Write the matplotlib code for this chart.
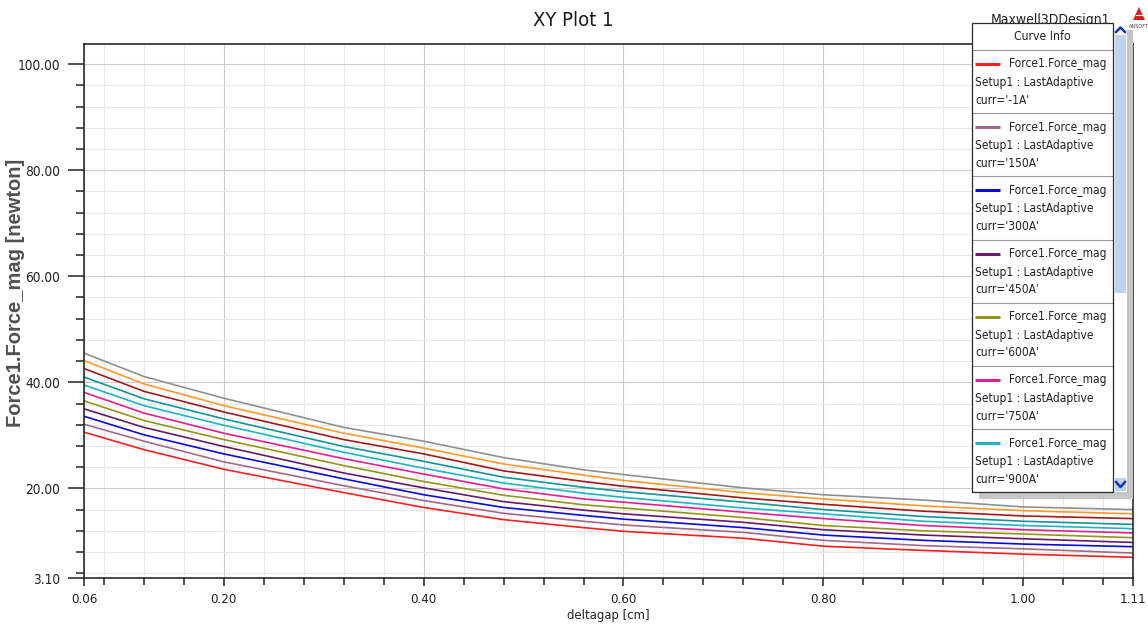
import numpy as np
import matplotlib
matplotlib.use("Agg")
import matplotlib.pyplot as plt
from matplotlib import font_manager
from matplotlib.patches import Rectangle, Polygon
from matplotlib.lines import Line2D

# ---------------- data ----------------
deltagap = [0.06, 0.12, 0.20, 0.32, 0.40, 0.48, 0.56, 0.60, 0.72, 0.80, 0.90, 1.00, 1.11]
currents = ["-1A", "150A", "300A", "450A", "600A", "750A", "900A",
            "1050A", "1200A", "1350A", "1500A"]
force_m1A   = [30.6, 27.3, 23.6, 19.2, 16.4, 14.1, 12.6, 11.9, 10.6, 9.1, 8.3, 7.6, 7.0]
force_150A  = [32.1, 28.9, 25.0, 20.5, 17.7, 15.3, 13.8, 13.1, 11.7, 10.2, 9.2, 8.6, 7.8]
force_300A  = [33.6, 30.1, 26.5, 21.8, 18.8, 16.4, 14.9, 14.2, 12.6, 11.2, 10.2, 9.5, 9.0]
force_450A  = [35.0, 31.5, 27.9, 22.9, 20.1, 17.5, 15.9, 15.2, 13.6, 12.2, 11.2, 10.5, 9.8]
force_600A  = [36.5, 32.8, 29.2, 24.3, 21.3, 18.7, 16.9, 16.3, 14.5, 13.0, 12.0, 11.4, 10.7]
force_750A  = [38.1, 34.2, 30.4, 25.6, 22.7, 19.9, 18.0, 17.4, 15.5, 14.3, 13.0, 12.2, 11.6]
force_900A  = [39.5, 35.6, 31.9, 26.8, 23.8, 21.0, 19.1, 18.3, 16.3, 15.2, 13.8, 13.0, 12.4]
force_1050A = [41.0, 36.9, 33.1, 27.9, 25.1, 22.1, 20.2, 19.4, 17.4, 16.0, 14.7, 13.8, 13.2]
force_1200A = [42.6, 38.3, 34.4, 29.2, 26.5, 23.3, 21.3, 20.4, 18.2, 17.0, 15.7, 14.8, 14.3]
force_1350A = [44.1, 39.7, 35.6, 30.4, 27.6, 24.6, 22.5, 21.5, 19.2, 18.0, 16.7, 15.8, 15.2]
force_1500A = [45.5, 41.1, 37.0, 31.5, 28.9, 25.8, 23.5, 22.6, 20.1, 18.8, 17.8, 16.5, 16.0]
series = [force_m1A, force_150A, force_300A, force_450A, force_600A, force_750A,
          force_900A, force_1050A, force_1200A, force_1350A, force_1500A]
colors = ["#ff2020", "#a06a8c", "#0a0ad8", "#641c6a", "#949420", "#e0228c",
          "#22b2c2", "#149494", "#9c1c1c", "#ff9a30", "#909090"]

x_major = [0.06, 0.20, 0.40, 0.60, 0.80, 1.00, 1.11]
x_labels = ["0.06", "0.20", "0.40", "0.60", "0.80", "1.00", "1.11"]
y_major = [3.10, 20.0, 40.0, 60.0, 80.0, 100.0]
y_labels = ["3.10", "20.00", "40.00", "60.00", "80.00", "100.00"]
legend_shown = 7  # curves visible in the Curve Info box

# ---------------- fonts ----------------
names = {f.name for f in font_manager.fontManager.ttflist}
if "Liberation Sans Narrow" in names:
    NARROW = dict(family="Liberation Sans Narrow")
    WF = 1.0
elif any(f.name == "DejaVu Sans" and "condensed" in str(f.stretch)
         for f in font_manager.fontManager.ttflist):
    NARROW = dict(family="DejaVu Sans", stretch="condensed")
    WF = 0.83
else:
    NARROW = dict(family="Liberation Sans")
    WF = 0.82


def fs(s):
    return s * WF


W, H = 1148, 625
fig = plt.figure(figsize=(W / 100, H / 100), dpi=100)
fig.patch.set_facecolor("white")


def fx(x):
    return x / W


def fy(y):
    return 1 - y / H


ax = fig.add_axes([fx(84), fy(578), (1133 - 84) / W, (578 - 44) / H])

for vals, c in zip(series, colors):
    ax.plot(deltagap, vals, color=c, lw=1.2, solid_joinstyle="round")

ax.set_xlim(0.06, 1.11)
ax.set_ylim(3.10, 103.8)
ax.set_xticks(x_major)
ax.set_xticklabels(x_labels, fontsize=fs(11.5), color="#222222", **NARROW)
ax.set_xticks(np.arange(0.08, 1.10, 0.04), minor=True)
ax.set_yticks(y_major)
ax.set_yticklabels(y_labels, fontsize=fs(11.8), color="#222222", **NARROW)
ax.set_yticks(np.arange(4, 104, 4), minor=True)

ax.tick_params(axis="y", which="major", length=11.5, width=1.1, pad=5.5, color="#222222")
ax.tick_params(axis="y", which="minor", length=5.8, width=1.1, color="#222222")
ax.tick_params(axis="x", which="major", length=6, width=1.1, pad=5, color="#222222")
ax.tick_params(axis="x", which="minor", length=5, width=1.1, color="#222222")

ax.grid(which="major", color="#cdcdcd", lw=0.8)
ax.grid(which="minor", color="#e8e8e8", lw=0.8)
ax.set_axisbelow(True)
for sp in ax.spines.values():
    sp.set_linewidth(1.1)
    sp.set_color("#1a1a1a")

# ---------------- titles / labels ----------------
fig.text(fx(573), fy(21), "XY Plot 1", ha="center", va="center",
         fontsize=fs(17.5), color="#1a1a1a", **NARROW)
fig.text(fx(608), fy(615), "deltagap [cm]", ha="center", va="center",
         fontsize=fs(11.3), color="#222222", **NARROW)
fig.text(fx(16), fy(293), "Force1.Force_mag [newton]", ha="center", va="center",
         rotation=90, fontsize=14.5, fontweight="bold", color="#505050",
         family="Liberation Sans")
fig.text(fx(1050), fy(20), "Maxwell3DDesign1", ha="center", va="center",
         fontsize=fs(12), color="#222222", zorder=2, **NARROW)

# Ansoft logo
fig.add_artist(Polygon([[fx(1133), fy(20)], [fx(1139), fy(7)], [fx(1145), fy(20)]],
                       closed=True, transform=fig.transFigure, facecolor="#d42020",
                       edgecolor="none", zorder=2))
fig.add_artist(Line2D([fx(1135.5), fx(1142.5)], [fy(15), fy(15)], transform=fig.transFigure,
                      color="white", lw=0.8, zorder=2.1))
fig.text(fx(1139), fy(27), "ANSOFT", ha="center", va="center", fontsize=4,
         color="#444444", zorder=2, **NARROW)


# ---------------- Curve Info box ----------------
def rect(x0, y0, x1, y1, **kw):
    r = Rectangle((fx(x0), fy(y1)), (x1 - x0) / W, (y1 - y0) / H,
                  transform=fig.transFigure, **kw)
    fig.add_artist(r)
    return r


def hline(x0, x1, y, **kw):
    fig.add_artist(Line2D([fx(x0), fx(x1)], [fy(y), fy(y)], transform=fig.transFigure, **kw))


BX0, BX1, BY0, BY1 = 972, 1113, 23, 492
rect(979, 30, 1133, 499, facecolor="#c6c6c6", edgecolor="none", zorder=3)
rect(BX0, BY0, 1127, BY1, facecolor="white", edgecolor="none", zorder=4)
rect(BX0, BY0, BX1, BY1, facecolor="none", edgecolor="#2a2a2a", lw=0.9, zorder=6)

fig.text(fx((BX0 + BX1) / 2), fy(37), "Curve Info", ha="center", va="center",
         fontsize=fs(10.5), color="#222222", zorder=6, **NARROW)
hline(BX0, BX1, 50, color="#9a9a9a", lw=0.8, zorder=5)

ENTRY_H = 63.2
for i in range(legend_shown):
    top = 50 + i * ENTRY_H
    hline(975, 1000, top + 14, color=colors[i], lw=2.2, zorder=6, solid_capstyle="butt")
    fig.text(fx(1009), fy(top + 14), "Force1.Force_mag", ha="left", va="center",
             fontsize=fs(10.3), color="#222222", zorder=6, **NARROW)
    fig.text(fx(975), fy(top + 32.5), "Setup1 : LastAdaptive", ha="left", va="center",
             fontsize=fs(10.3), color="#222222", zorder=6, **NARROW)
    fig.text(fx(975), fy(top + 50), "curr='" + currents[i] + "'", ha="left", va="center",
             fontsize=fs(10.3), color="#222222", zorder=6, **NARROW)
    if i < legend_shown - 1:
        hline(BX0, BX1, top + ENTRY_H, color="#9a9a9a", lw=0.8, zorder=5)

# scrollbar
rect(1115, 35, 1126, 293, facecolor="#bcd2ee", edgecolor="none", zorder=5)
rect(1115, 478, 1126, 491, facecolor="#bcd2ee", edgecolor="none", zorder=5)
fig.add_artist(Line2D([fx(1116), fx(1120.5), fx(1125)], [fy(32), fy(27.5), fy(32)],
                      transform=fig.transFigure, color="#1030c0", lw=1.8, zorder=6))
fig.add_artist(Line2D([fx(1116), fx(1120.5), fx(1125)], [fy(482), fy(487), fy(482)],
                      transform=fig.transFigure, color="#1030c0", lw=1.8, zorder=6))

fig.savefig("out.png", dpi=100, facecolor="white")
